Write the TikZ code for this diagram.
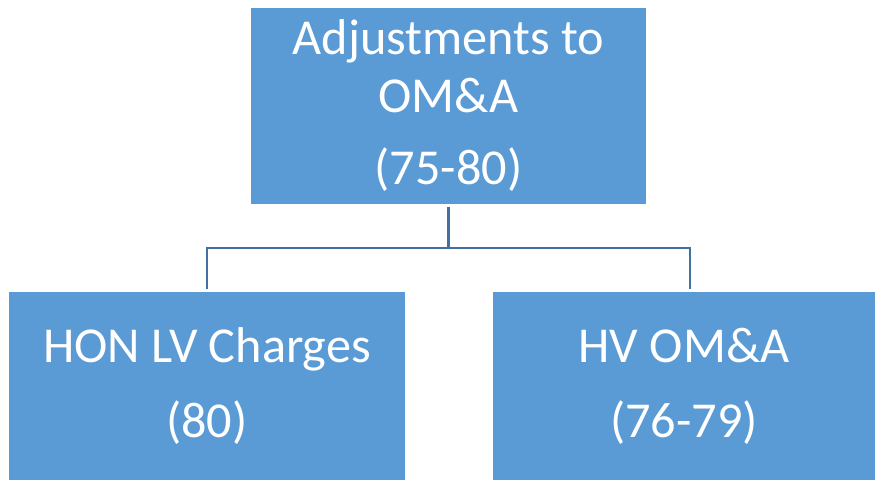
\documentclass[tikz,border=0pt]{standalone}
\usepackage{fontspec}
\setmainfont{Carlito}
\definecolor{boxblue}{HTML}{5B9BD5}
\definecolor{lineblue}{HTML}{41719C}
\tikzset{
  unitbox/.style={fill=boxblue, text=white, align=center, inner sep=0pt,
    font=\fontsize{28.6}{32.5}\selectfont},
  link/.style={draw=lineblue, line width=1.3pt}
}
\begin{document}
\begin{tikzpicture}
        % fixed canvas
        \useasboundingbox (0,0) rectangle (17.54,9.64);
        % The boxes
        \node[unitbox, minimum width=7.9cm, minimum height=3.92cm] (adj) at (8.97,7.52)
          {Adjustments to\\OM\&A\\[9pt](75-80)};
        \node[unitbox, minimum width=7.92cm, minimum height=3.76cm] (hon) at (4.14,1.92)
          {HON LV Charges\\[10pt](80)};
        \node[unitbox, minimum width=7.64cm, minimum height=3.76cm] (hv) at (13.68,1.92)
          {HV OM\&A\\[10pt](76-79)};
        % Bus points of the tree
        \coordinate (adjfoot) at (8.97,5.5);
        \coordinate (busmid) at (8.97,4.68);
        \coordinate (busl) at (4.14,4.68);
        \coordinate (busr) at (13.8,4.68);
        \coordinate (honhead) at (4.14,3.86);
        \coordinate (hvhead) at (13.8,3.86);
        % The connectors
        \draw[link] (adjfoot) -- (busmid);
        \draw[link] (honhead) -- (busl) -- (busr) -- (hvhead);
      \end{tikzpicture}
\end{document}
